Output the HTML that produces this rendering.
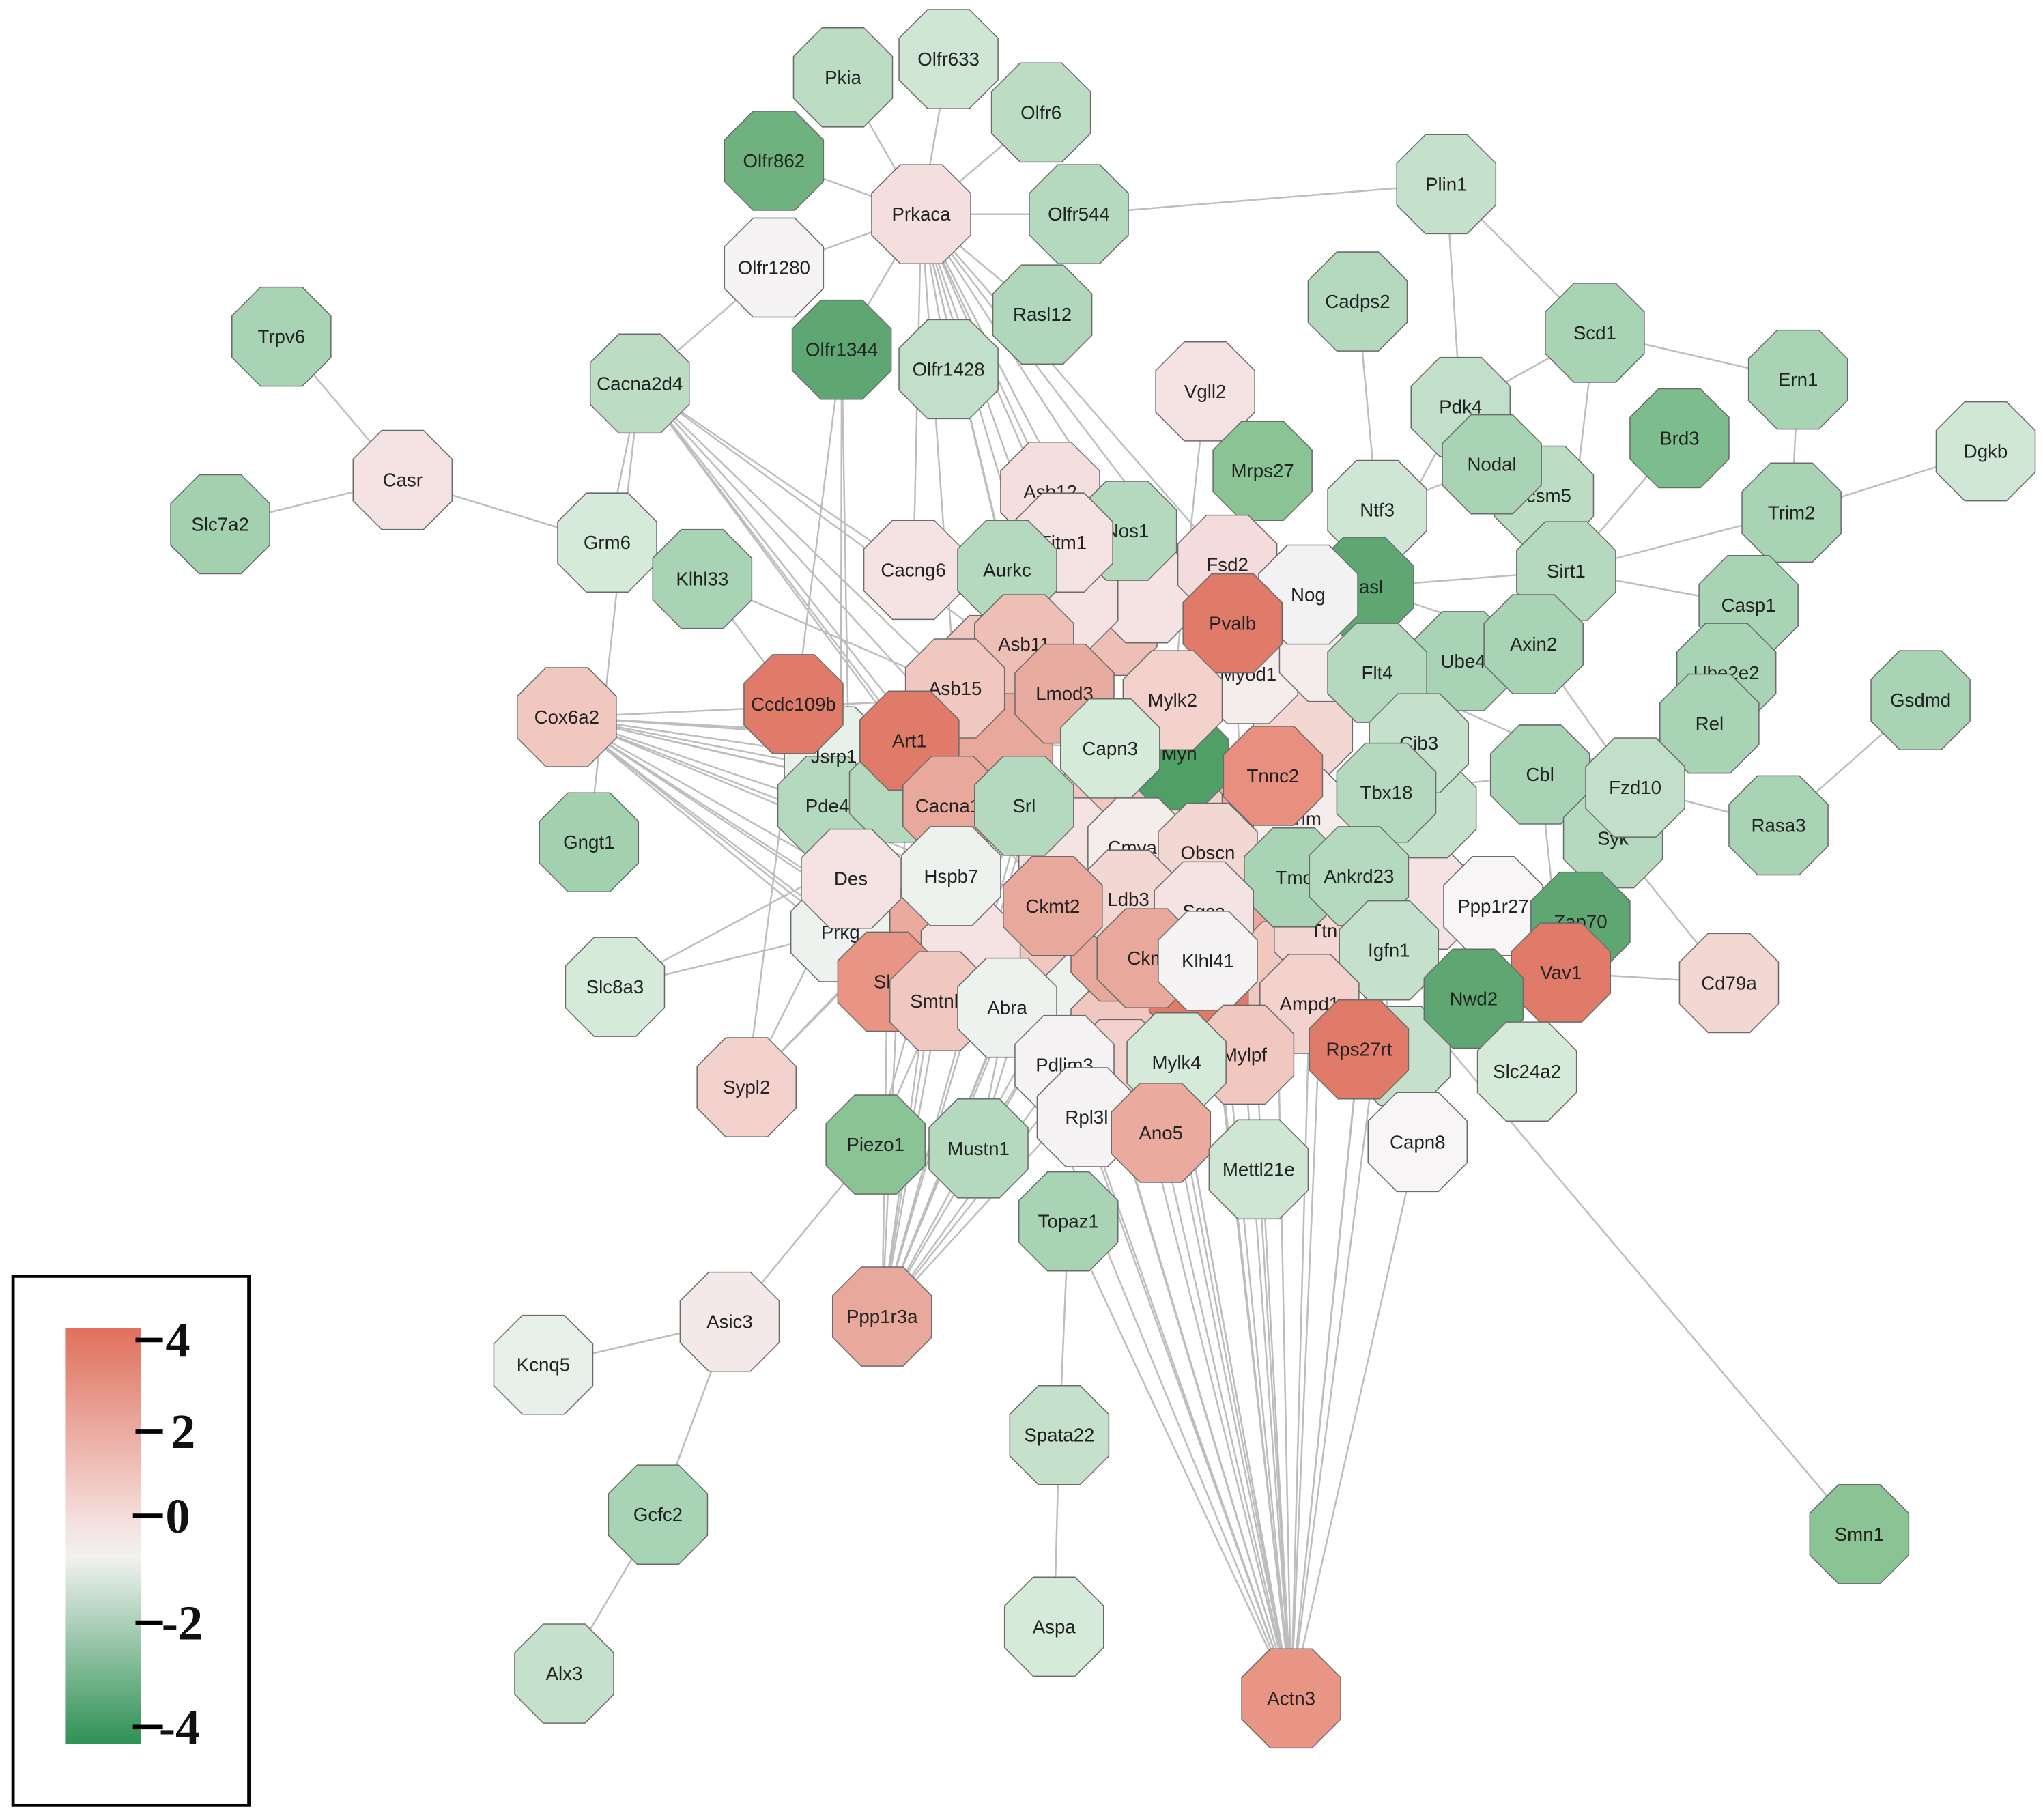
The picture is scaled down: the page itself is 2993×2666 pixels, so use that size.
<!DOCTYPE html>
<html><head><meta charset="utf-8"><style>
html,body{margin:0;padding:0;background:#fff}
svg{display:block}
text{font-family:"Liberation Sans",sans-serif}
</style></head><body>
<svg width="2993" height="2666" viewBox="0 0 1568 1396" xmlns="http://www.w3.org/2000/svg">
<defs>
<polygon id="o" points="16,-38 38,-16 38,16 16,38 -16,38 -38,16 -38,-16 -16,-38" stroke="#6b6b6b" stroke-width="0.8"/>
<linearGradient id="lg" x1="0" y1="0" x2="0" y2="1">
<stop offset="0" stop-color="#e0705c"/><stop offset="0.45" stop-color="#f4dcd9"/><stop offset="0.55" stop-color="#f2f2f0"/><stop offset="1" stop-color="#2e9155"/>
</linearGradient>
</defs>
<g stroke="#bdbdbd" stroke-width="1.3" fill="none">
<path d="M707,164L647,59M707,164L728,45M707,164L799,86M707,164L594,123M707,164L828,164M707,164L594,205M707,164L800,241M707,164L646,268M707,164L728,283"/>
<path d="M707,164L806,377M707,164L816,416M707,164L773,437M707,164L865,407M707,164L701,437M707,164L786,494M707,164L817,532M707,164L946,478M707,164L942,433M707,164L900,537M707,164L733,528M707,164L852,574"/>
<path d="M828,164L1110,141M1110,141L1224,255M1224,255L1380,291M1224,255L1121,312M1224,255L1202,438M594,205L491,294M491,294L466,416M491,294L733,528M491,294L698,568M491,294L731,618M491,294L786,618M491,294L808,695M491,294L817,532M491,294L701,437M491,294L452,646"/>
<path d="M309,368L216,258M309,368L169,402M309,368L466,416M646,268L573,834M646,268L653,674M646,268L645,715M539,444L733,528M539,444L640,580"/>
<path d="M435,550L698,568M435,550L731,618M435,550L808,695M435,550L786,618M435,550L681,753M435,550L721,768M435,550L773,773M435,550L653,674M435,550L730,672M435,550L635,618M435,550L640,580M435,550L645,715M435,550L852,574M435,550L817,532M435,550L690,608M435,550L700,720"/>
<path d="M472,757L731,618M472,757L645,715M573,834L653,674M573,834L730,672M573,834L786,618M672,878L560,1014M560,1014L417,1047M560,1014L505,1162M505,1162L433,1284"/>
<path d="M677,1010L808,695M677,1010L786,618M677,1010L773,773M677,1010L817,817M677,1010L730,672M677,1010L731,618M677,1010L698,568M677,1010L817,532M677,1010L852,574M677,1010L927,737M677,1010L924,699M677,1010L866,690M677,1010L721,768M677,1010L681,753M677,1010L873,650"/>
<path d="M751,881L808,695M751,881L773,773M751,881L866,690M672,878L730,672M672,878L786,618"/>
<path d="M820,937L813,1101M813,1101L809,1248M820,937L991,1303"/>
<path d="M991,1303L834,857M991,1303L891,869M991,1303L903,815M991,1303L955,809M991,1303L966,897M991,1303L927,737M991,1303L1005,770M991,1303L1043,805M991,1303L1088,876M991,1303L1066,729M991,1303L808,695M991,1303L773,773M991,1303L817,817M991,1303L866,690M991,1303L924,699M991,1303L977,595M991,1303L786,618M991,1303L946,478M991,1303L1016,714M991,1303L873,650M991,1303L927,654M991,1303L852,574M991,1303L1064,608M991,1303L860,780"/>
<path d="M1427,1177L1100,790M925,300L900,537M969,361L946,478M1042,231L1057,391M1057,391L1145,356M1145,356L1121,312M1145,356L1202,438M1202,438L1375,393M1202,438L1342,464M1202,438L1177,494M1375,393L1380,291M1375,393L1524,346M1342,464L1325,516M1342,464L1312,555M1312,555L1182,594M1474,537L1365,633M1365,633L1255,604M1182,594L1238,643M1238,643L1213,707M1213,707L1198,746M1198,746L1327,754M1238,643L1327,754M1182,594L1198,746M1146,695L1043,672M1172,822L1131,766M1177,494L1255,604M1255,604L1057,516M1088,876L1043,672M1057,391L1004,456M1121,312L1047,450M1202,438L1047,450M1375,393L1202,438M1289,336L1202,438M1110,141L1121,312"/>
<path d="M1057,516L946,478M1064,608L977,595M1043,672L927,654M1066,729L1005,770M1177,494L1047,450M1146,695L1064,608M1182,594L1064,608"/>
</g>
<g>
<use href="#o" x="760" y="510" fill="#f0c8c0"/><use href="#o" x="850" y="480" fill="#eebfb5"/><use href="#o" x="880" y="455" fill="#f5e3e3"/>
<use href="#o" x="980" y="505" fill="#f3d7d2"/><use href="#o" x="1010" y="525" fill="#f5ecec"/><use href="#o" x="950" y="625" fill="#e8a99c"/>
<use href="#o" x="900" y="625" fill="#f3d2cd"/><use href="#o" x="850" y="615" fill="#f0c8c0"/><use href="#o" x="820" y="650" fill="#f5e3e3"/>
<use href="#o" x="770" y="570" fill="#e8a99c"/><use href="#o" x="780" y="740" fill="#f0c8c0"/><use href="#o" x="840" y="765" fill="#eef2ef"/>
<use href="#o" x="880" y="730" fill="#e8a99c"/><use href="#o" x="960" y="725" fill="#e8a99c"/><use href="#o" x="985" y="745" fill="#f0c8c0"/>
<use href="#o" x="1095" y="690" fill="#f5e3e3"/><use href="#o" x="1095" y="620" fill="#c5e1cc"/><use href="#o" x="1000" y="560" fill="#f3d7d2"/>
<use href="#o" x="860" y="790" fill="#f0c8c0"/><use href="#o" x="700" y="720" fill="#eaaa9e"/><use href="#o" x="745" y="730" fill="#f5e3e3"/>
<use href="#o" x="860" y="820" fill="#f3d2cd"/><use href="#o" x="820" y="460" fill="#f5e3e3"/><use href="#o" x="1016" y="714" fill="#f3d7d2"/>
<use href="#o" x="1075" y="810" fill="#c5e1cc"/><use href="#o" x="640" y="580" fill="#e8f0ea"/><use href="#o" x="635" y="618" fill="#b5d9bf"/>
<use href="#o" x="690" y="608" fill="#b5d9bf"/><use href="#o" x="1000" y="628" fill="#f5ecec"/><use href="#o" x="905" y="583" fill="#4f9f66"/>
<use href="#o" x="958" y="517" fill="#f5ecec"/><use href="#o" x="1020" y="500" fill="#f5ecec"/><use href="#o" x="920" y="760" fill="#e07b6a"/>
<use href="#o" x="860" y="730" fill="#e8a99c"/><use href="#o" x="645" y="715" fill="#eef2ef"/>
</g>
<g font-size="14.5" fill="#222" text-anchor="middle" dominant-baseline="central">
<text x="640" y="580">Jsrp1</text><text x="635" y="618">Pde4</text><text x="1016" y="714">Ttn</text><text x="1000" y="628">Trim</text><text x="905" y="578">Myh</text><text x="958" y="517">Myod1</text><text x="645" y="715">Prkg</text>
</g>
<g font-size="14.5" fill="#222" text-anchor="middle" dominant-baseline="central">
<use href="#o" x="647" y="59" fill="#bcdcc4"/><text x="647" y="59">Pkia</text>
<use href="#o" x="728" y="45" fill="#cfe6d5"/><text x="728" y="45">Olfr633</text>
<use href="#o" x="799" y="86" fill="#bcdcc4"/><text x="799" y="86">Olfr6</text>
<use href="#o" x="594" y="123" fill="#6fb17f"/><text x="594" y="123">Olfr862</text>
<use href="#o" x="828" y="164" fill="#b5d9bf"/><text x="828" y="164">Olfr544</text>
<use href="#o" x="707" y="164" fill="#f5dede"/><text x="707" y="164">Prkaca</text>
<use href="#o" x="594" y="205" fill="#f5f3f3"/><text x="594" y="205">Olfr1280</text>
<use href="#o" x="800" y="241" fill="#b0d6bb"/><text x="800" y="241">Rasl12</text>
<use href="#o" x="646" y="268" fill="#5fa772"/><text x="646" y="268">Olfr1344</text>
<use href="#o" x="728" y="283" fill="#c2dfca"/><text x="728" y="283">Olfr1428</text>
<use href="#o" x="1110" y="141" fill="#c5e1cc"/><text x="1110" y="141">Plin1</text>
<use href="#o" x="1042" y="231" fill="#b5d9bf"/><text x="1042" y="231">Cadps2</text>
<use href="#o" x="1224" y="255" fill="#a8d3b4"/><text x="1224" y="255">Scd1</text>
<use href="#o" x="1380" y="291" fill="#a8d3b4"/><text x="1380" y="291">Ern1</text>
<use href="#o" x="1289" y="336" fill="#7dbd8d"/><text x="1289" y="336">Brd3</text>
<use href="#o" x="1524" y="346" fill="#d0e7d6"/><text x="1524" y="346">Dgkb</text>
<use href="#o" x="216" y="258" fill="#a8d3b4"/><text x="216" y="258">Trpv6</text>
<use href="#o" x="491" y="294" fill="#bcdcc4"/><text x="491" y="294">Cacna2d4</text>
<use href="#o" x="309" y="368" fill="#f5e3e3"/><text x="309" y="368">Casr</text>
<use href="#o" x="169" y="402" fill="#a3d0af"/><text x="169" y="402">Slc7a2</text>
<use href="#o" x="466" y="416" fill="#d6ead9"/><text x="466" y="416">Grm6</text>
<use href="#o" x="539" y="444" fill="#a8d3b4"/><text x="539" y="444">Klhl33</text>
<use href="#o" x="925" y="300" fill="#f5e3e3"/><text x="925" y="300">Vgll2</text>
<use href="#o" x="969" y="361" fill="#8ac495"/><text x="969" y="361">Mrps27</text>
<use href="#o" x="1121" y="312" fill="#c2dfca"/><text x="1121" y="312">Pdk4</text>
<use href="#o" x="1185" y="380" fill="#bcdcc4"/><text x="1185" y="380">Tcsm5</text>
<use href="#o" x="1145" y="356" fill="#a8d3b4"/><text x="1145" y="356">Nodal</text>
<use href="#o" x="1057" y="391" fill="#cfe6d5"/><text x="1057" y="391">Ntf3</text>
<use href="#o" x="1375" y="393" fill="#a8d3b4"/><text x="1375" y="393">Trim2</text>
<use href="#o" x="1202" y="438" fill="#b5d9bf"/><text x="1202" y="438">Sirt1</text>
<use href="#o" x="1342" y="464" fill="#a8d3b4"/><text x="1342" y="464">Casp1</text>
<use href="#o" x="1325" y="516" fill="#a8d3b4"/><text x="1325" y="516">Ube2e2</text>
<use href="#o" x="1474" y="537" fill="#a8d3b4"/><text x="1474" y="537">Gsdmd</text>
<use href="#o" x="1312" y="555" fill="#a8d3b4"/><text x="1312" y="555">Rel</text>
<use href="#o" x="806" y="377" fill="#f5dede"/><text x="806" y="377">Asb12</text>
<use href="#o" x="865" y="407" fill="#b5d9bf"/><text x="865" y="407">Nos1</text>
<use href="#o" x="816" y="416" fill="#f5e3e3"/><text x="816" y="416">Fitm1</text>
<use href="#o" x="942" y="433" fill="#f5dcdc"/><text x="942" y="433">Fsd2</text>
<use href="#o" x="1047" y="450" fill="#5fa772"/><text x="1047" y="450">Casl</text>
<use href="#o" x="1004" y="456" fill="#f2f2f2"/><text x="1004" y="456">Nog</text>
<use href="#o" x="701" y="437" fill="#f5e3e3"/><text x="701" y="437">Cacng6</text>
<use href="#o" x="773" y="437" fill="#b5d9bf"/><text x="773" y="437">Aurkc</text>
<use href="#o" x="946" y="478" fill="#e07b6a"/><text x="946" y="478">Pvalb</text>
<use href="#o" x="1123" y="507" fill="#a8d3b4"/><text x="1123" y="507">Ube4</text>
<use href="#o" x="1177" y="494" fill="#a8d3b4"/><text x="1177" y="494">Axin2</text>
<use href="#o" x="1057" y="516" fill="#b5d9bf"/><text x="1057" y="516">Flt4</text>
<use href="#o" x="435" y="550" fill="#f0c8c0"/><text x="435" y="550">Cox6a2</text>
<use href="#o" x="609" y="540" fill="#e07b6a"/><text x="609" y="540">Ccdc109b</text>
<use href="#o" x="786" y="494" fill="#eebfb5"/><text x="786" y="494">Asb11</text>
<use href="#o" x="733" y="528" fill="#f0c8c0"/><text x="733" y="528">Asb15</text>
<use href="#o" x="817" y="532" fill="#e8ab9f"/><text x="817" y="532">Lmod3</text>
<use href="#o" x="900" y="537" fill="#f3d2cd"/><text x="900" y="537">Mylk2</text>
<use href="#o" x="698" y="568" fill="#e07b6a"/><text x="698" y="568">Art1</text>
<use href="#o" x="1089" y="570" fill="#c5e1cc"/><text x="1089" y="570">Cib3</text>
<use href="#o" x="977" y="595" fill="#e88f80"/><text x="977" y="595">Tnnc2</text>
<use href="#o" x="852" y="574" fill="#d6ead9"/><text x="852" y="574">Capn3</text>
<use href="#o" x="1182" y="594" fill="#a8d3b4"/><text x="1182" y="594">Cbl</text>
<use href="#o" x="1238" y="643" fill="#b5d9bf"/><text x="1238" y="643">Syk</text>
<use href="#o" x="1255" y="604" fill="#c2dfca"/><text x="1255" y="604">Fzd10</text>
<use href="#o" x="1064" y="608" fill="#b5d9bf"/><text x="1064" y="608">Tbx18</text>
<use href="#o" x="1365" y="633" fill="#a8d3b4"/><text x="1365" y="633">Rasa3</text>
<use href="#o" x="731" y="618" fill="#e8a99c"/><text x="731" y="618">Cacna1s</text>
<use href="#o" x="786" y="618" fill="#b5d9bf"/><text x="786" y="618">Srl</text>
<use href="#o" x="452" y="646" fill="#a3d0af"/><text x="452" y="646">Gngt1</text>
<use href="#o" x="873" y="650" fill="#f5ecec"/><text x="873" y="650">Cmya5</text>
<use href="#o" x="927" y="654" fill="#f3d7d2"/><text x="927" y="654">Obscn</text>
<use href="#o" x="653" y="674" fill="#f5e3e3"/><text x="653" y="674">Des</text>
<use href="#o" x="730" y="672" fill="#eef2ef"/><text x="730" y="672">Hspb7</text>
<use href="#o" x="866" y="690" fill="#f3d7d2"/><text x="866" y="690">Ldb3</text>
<use href="#o" x="808" y="695" fill="#e8a99c"/><text x="808" y="695">Ckmt2</text>
<use href="#o" x="993" y="673" fill="#a8d3b4"/><text x="993" y="673">Tmc</text>
<use href="#o" x="924" y="699" fill="#f5e3e3"/><text x="924" y="699">Sgca</text>
<use href="#o" x="1043" y="672" fill="#b5d9bf"/><text x="1043" y="672">Ankrd23</text>
<use href="#o" x="1146" y="695" fill="#f7f5f5"/><text x="1146" y="695">Ppp1r27</text>
<use href="#o" x="1213" y="707" fill="#5fa772"/><text x="1213" y="707">Zap70</text>
<use href="#o" x="1198" y="746" fill="#e07b6a"/><text x="1198" y="746">Vav1</text>
<use href="#o" x="1327" y="754" fill="#f3d7d2"/><text x="1327" y="754">Cd79a</text>
<use href="#o" x="1066" y="729" fill="#c5e1cc"/><text x="1066" y="729">Igfn1</text>
<use href="#o" x="880" y="735" fill="#e8a99c"/><text x="880" y="735">Ckm</text>
<use href="#o" x="927" y="737" fill="#f5f3f3"/><text x="927" y="737">Klhl41</text>
<use href="#o" x="472" y="757" fill="#d6ead9"/><text x="472" y="757">Slc8a3</text>
<use href="#o" x="681" y="753" fill="#e89585"/><text x="681" y="753">Sln</text>
<use href="#o" x="721" y="768" fill="#f0c8c0"/><text x="721" y="768">Smtnl1</text>
<use href="#o" x="773" y="773" fill="#eef2ef"/><text x="773" y="773">Abra</text>
<use href="#o" x="1131" y="766" fill="#5fa772"/><text x="1131" y="766">Nwd2</text>
<use href="#o" x="1005" y="770" fill="#f3d2cd"/><text x="1005" y="770">Ampd1</text>
<use href="#o" x="1043" y="805" fill="#e07b6a"/><text x="1043" y="805">Rps27rt</text>
<use href="#o" x="1172" y="822" fill="#d6ead9"/><text x="1172" y="822">Slc24a2</text>
<use href="#o" x="573" y="834" fill="#f3d2cd"/><text x="573" y="834">Sypl2</text>
<use href="#o" x="955" y="809" fill="#f0c8c0"/><text x="955" y="809">Mylpf</text>
<use href="#o" x="903" y="815" fill="#d6ead9"/><text x="903" y="815">Mylk4</text>
<use href="#o" x="817" y="817" fill="#f5f3f3"/><text x="817" y="817">Pdlim3</text>
<use href="#o" x="834" y="857" fill="#f5f3f3"/><text x="834" y="857">Rpl3l</text>
<use href="#o" x="891" y="869" fill="#eaaa9e"/><text x="891" y="869">Ano5</text>
<use href="#o" x="1088" y="876" fill="#f7f5f5"/><text x="1088" y="876">Capn8</text>
<use href="#o" x="966" y="897" fill="#cfe6d5"/><text x="966" y="897">Mettl21e</text>
<use href="#o" x="672" y="878" fill="#8ac495"/><text x="672" y="878">Piezo1</text>
<use href="#o" x="751" y="881" fill="#b5d9bf"/><text x="751" y="881">Mustn1</text>
<use href="#o" x="820" y="937" fill="#a8d3b4"/><text x="820" y="937">Topaz1</text>
<use href="#o" x="677" y="1010" fill="#e8a99c"/><text x="677" y="1010">Ppp1r3a</text>
<use href="#o" x="560" y="1014" fill="#f5e8e8"/><text x="560" y="1014">Asic3</text>
<use href="#o" x="417" y="1047" fill="#e8f0ea"/><text x="417" y="1047">Kcnq5</text>
<use href="#o" x="813" y="1101" fill="#c5e1cc"/><text x="813" y="1101">Spata22</text>
<use href="#o" x="505" y="1162" fill="#a8d3b4"/><text x="505" y="1162">Gcfc2</text>
<use href="#o" x="809" y="1248" fill="#d6ead9"/><text x="809" y="1248">Aspa</text>
<use href="#o" x="433" y="1284" fill="#c5e1cc"/><text x="433" y="1284">Alx3</text>
<use href="#o" x="991" y="1303" fill="#e89585"/><text x="991" y="1303">Actn3</text>
<use href="#o" x="1427" y="1177" fill="#8ac495"/><text x="1427" y="1177">Smn1</text>
</g>
<rect x="10" y="979" width="181" height="406" fill="#fff" stroke="#000" stroke-width="2.5"/>
<rect x="50" y="1019" width="58" height="319" fill="url(#lg)"/>
<g stroke="#000" stroke-width="3.5">
<path d="M104,1028H125M104,1098H125M102,1163H125M104,1245H125M102,1325H125"/>
</g>
<g style="font-family:'Liberation Serif',serif;font-weight:bold;font-size:38px" fill="#111" dominant-baseline="central">
<text x="127" y="1028" style="font-family:'Liberation Serif',serif">4</text><text x="131" y="1098" style="font-family:'Liberation Serif',serif">2</text><text x="127" y="1163" style="font-family:'Liberation Serif',serif">0</text><text x="124" y="1245" style="font-family:'Liberation Serif',serif">-2</text><text x="122" y="1325" style="font-family:'Liberation Serif',serif">-4</text>
</g>
</svg>
</body></html>
